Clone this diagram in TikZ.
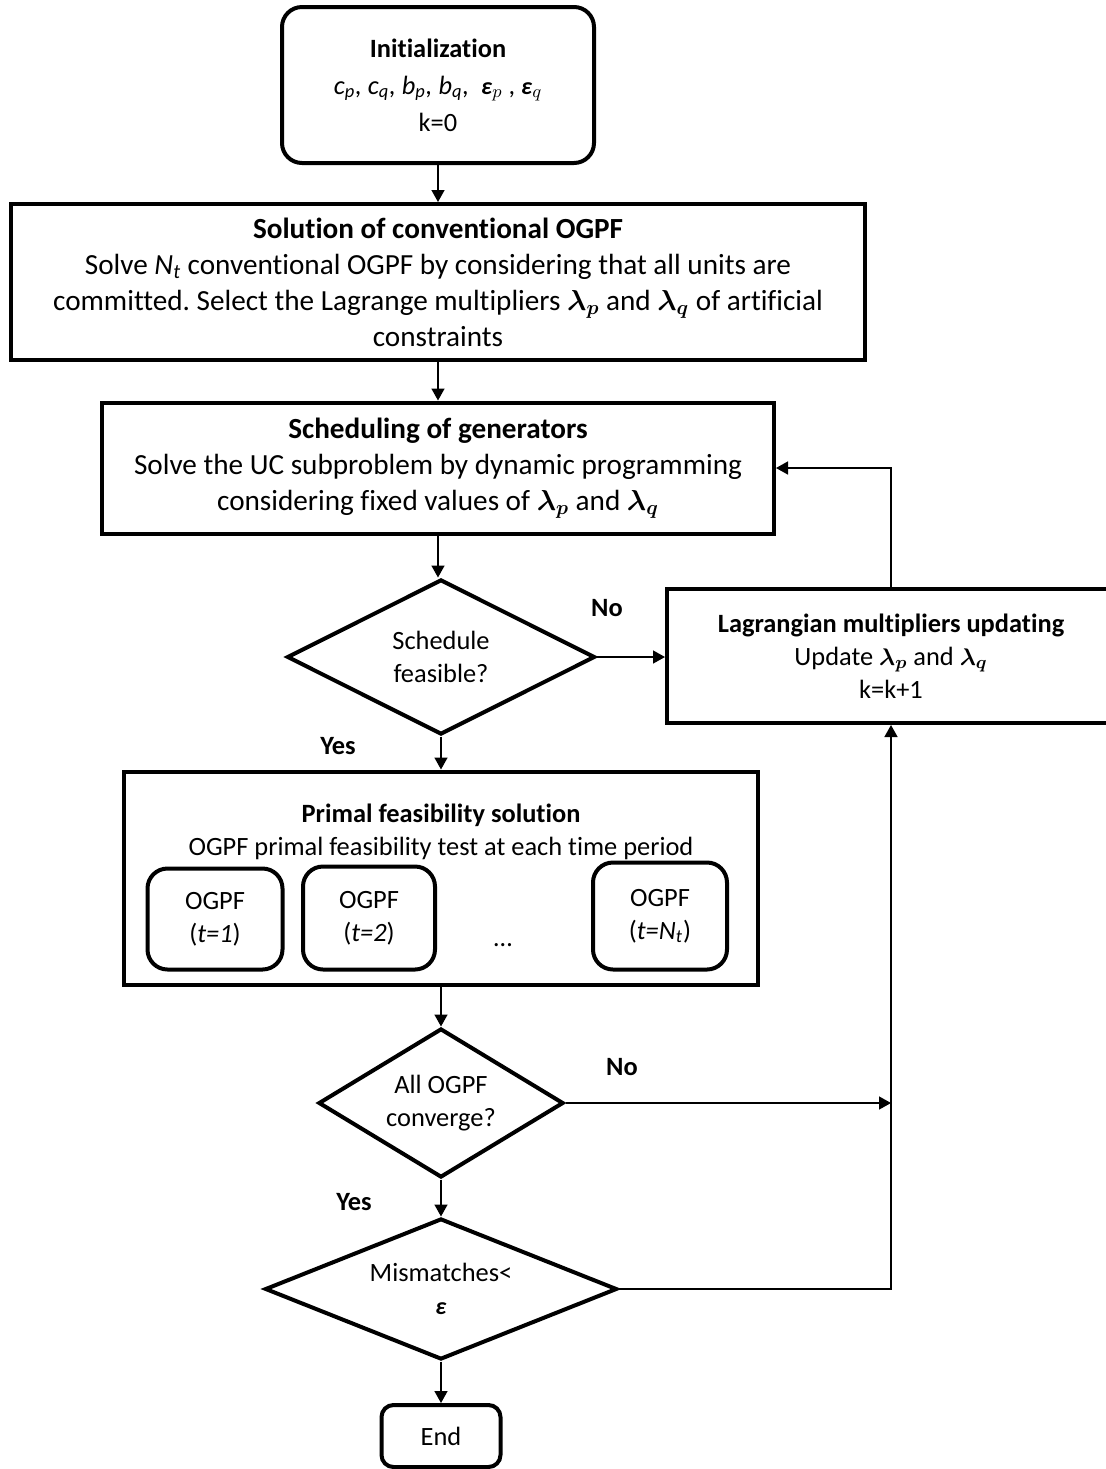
\documentclass[tikz,border=0pt]{standalone}
\usepackage{fontspec}
\setmainfont{Carlito}[Ligatures=NoCommon]
\usepackage{amsmath}
\usepackage{bm}
\usetikzlibrary{positioning,calc,arrows.meta,shapes.geometric}
\tikzset{font=\fontsize{13.2}{16.5}\selectfont}
\frenchspacing
\newcommand{\lamp}{$\bm{\lambda}_{\bm{p}}$}
\newcommand{\lamq}{$\bm{\lambda}_{\bm{q}}$}
\newcommand{\epsb}{\textbf{\textit{ε}}}
\newcommand{\bigtxt}{\fontsize{14.6}{18}\selectfont}

\begin{document}
\begin{tikzpicture}[x=0.5pt, y=-0.5pt,
	rbox/.style={draw, line width=2pt, rounded corners=10pt, align=center, inner sep=1pt},
	pbox/.style={draw, line width=2pt, align=center, inner sep=1pt},
	dec/.style={draw, diamond, line width=2pt, align=center, inner sep=0pt, aspect=2},
	arr/.style={line width=0.75pt, -{Triangle[length=6pt, width=6.5pt]}},
	lbl/.style={font=\fontsize{13.2}{16}\selectfont\bfseries}]
	\useasboundingbox (0,0) rectangle (1106,1469);

	\node[rbox, minimum width=156pt, minimum height=78pt] (init) at (438,85) {\textbf{Initialization}\\[2pt] \textit{c\textsubscript{p}, c\textsubscript{q}, b\textsubscript{p}, b\textsubscript{q},} \ {\large\epsb}$_p$ , {\large\epsb}$_q$\\[2pt] k=0};
	\node[pbox, minimum width=427pt, minimum height=78pt, font=\bigtxt] (ogpf) at (438,282) {\textbf{Solution of conventional OGPF}\\ Solve \textit{N\textsubscript{t}} conventional OGPF by considering that all units are\\ committed. Select the Lagrange multipliers \lamp{} and \lamq{} of artificial\\ constraints};
	\node[pbox, minimum width=336pt, minimum height=65.5pt, font=\bigtxt] (sched) at (438,468) {\textbf{Scheduling of generators}\\ Solve the UC subproblem by dynamic programming\\ considering fixed values of \lamp{} and \lamq};

	\node[dec, minimum width=154pt, minimum height=77.5pt] (dec1) at (441,657) {Schedule\\ feasible?};
	\node[pbox, minimum width=224pt, minimum height=67pt] (lagr) at (891,656) {\textbf{Lagrangian multipliers updating}\\ Update \lamp{} and \lamq\\ k=k+1};

	\node[pbox, minimum width=317pt, minimum height=106.5pt] (primal) at (441,878) {};
	\node[align=center, inner sep=1pt] (primtxt) at (441,832) {\textbf{Primal feasibility solution}\\ OGPF primal feasibility test at each time period};
	\node[rbox, minimum width=67.5pt, minimum height=50.5pt] (t1) at (215,919) {OGPF\\ (\textit{t=1})};
	\node[rbox, minimum width=66pt, minimum height=51.5pt] (t2) at (369,918) {OGPF\\ (\textit{t=2})};
	\node (dots) at (503,945) {\ldots};
	\node[rbox, minimum width=67pt, minimum height=53.5pt] (tn) at (660,916) {OGPF\\ (\textit{t=N\textsubscript{t}})};

	\node[dec, aspect=1.6, minimum width=122.5pt, minimum height=74.5pt] (dec2) at (441,1103) {All OGPF\\ converge?};
	\node[dec, aspect=2.5, minimum width=176pt, minimum height=70.5pt] (dec3) at (441,1289) {Mismatches<\\ {\large\epsb}};
	\node[rbox, rounded corners=6pt, minimum width=59.5pt, minimum height=31pt] (end) at (441,1436) {End};

	\node[lbl] (no1) at (607,608) {No};
	\node[lbl] (yes1) at (338,746) {Yes};
	\node[lbl] (no2) at (622,1067) {No};
	\node[lbl] (yes2) at (354,1202) {Yes};

	\draw[arr] (init) -- (ogpf);
	\draw[arr] (ogpf) -- (sched);
	\draw[arr] (sched.south) -- (sched.south |- dec1.north);
	\draw[arr] (dec1.east) -- (dec1.east -| lagr.west);
	\draw[arr] (lagr.north) |- (sched.east);
	\draw[arr] (dec1) -- (primal);
	\draw[arr] (primal) -- (dec2);
	\draw[arr] (dec2.east) -- (dec2.east -| lagr.south);
	\draw[arr] (dec3.east) -| (lagr.south);
	\draw[arr] (dec2) -- (dec3);
	\draw[arr] (dec3) -- (end);
\end{tikzpicture}
\end{document}
